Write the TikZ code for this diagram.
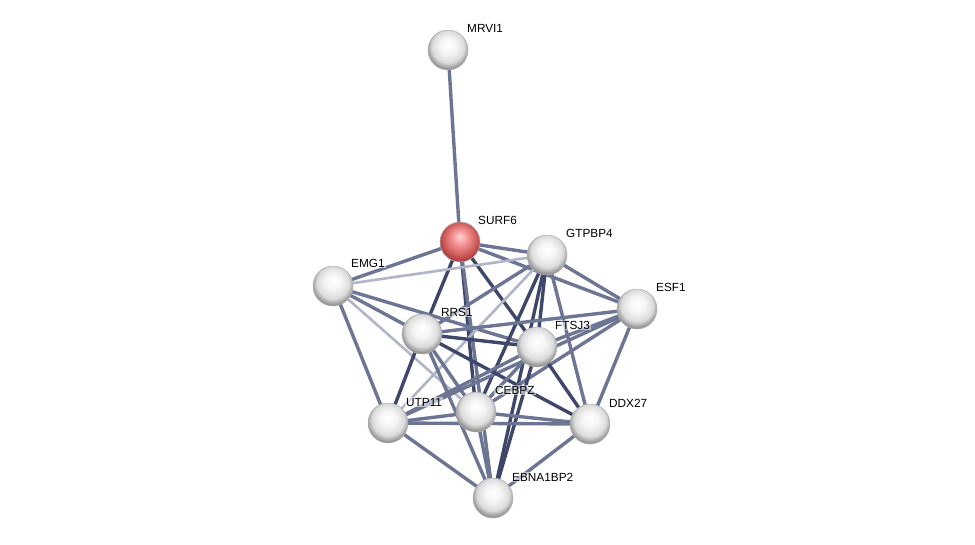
\documentclass[tikz,border=0pt]{standalone}
\usepackage{fontspec}
\setmainfont{Liberation Sans}
\pgfdeclareradialshading{glossy}{\pgfpoint{0bp}{7bp}}{%
  color(0bp)=(white); color(10bp)=(white!96!black); color(20bp)=(black!14);
  color(26bp)=(black!40); color(30bp)=(black!55); color(50bp)=(black!55)}
\pgfdeclareradialshading{glossyred}{\pgfpoint{0bp}{7bp}}{%
  color(0bp)=(red!18!white); color(10bp)=(red!40!white!95!black); color(20bp)=(red!55!white!82!black);
  color(26bp)=(red!60!black!75); color(30bp)=(red!50!black!65); color(50bp)=(red!50!black!65)}
\begin{document}
\begin{tikzpicture}[x=1pt,y=-1pt,
  prot/.style={circle,minimum size=40pt,inner sep=0pt,shading=glossy,draw=gray!60,line width=0.5pt},
  seed/.style={prot,shading=glossyred},
  lab/.style={anchor=west,font=\fontsize{11.8}{13}\selectfont,inner sep=1pt,fill=white,fill opacity=0.55,text opacity=1},
  el/.style={draw=lightedge,line width=2.6pt},
  em/.style={draw=midedge,line width=3.4pt},
  ed/.style={draw=darkedge,line width=3.4pt}]
\definecolor{lightedge}{HTML}{B0B5C8}
\definecolor{midedge}{HTML}{6C7594}
\definecolor{darkedge}{HTML}{3E4769}
\useasboundingbox (0,0) rectangle (975,544);
\fill[white] (0,0) rectangle (975,544);
% coordinates
\coordinate (pMRVI1) at (448,50);
\coordinate (pSURF6) at (460,242);
\coordinate (pGTPBP4) at (547,255);
\coordinate (pEMG1) at (333,286);
\coordinate (pESF1) at (637,309);
\coordinate (pRRS1) at (422,334);
\coordinate (pFTSJ3) at (537,347);
\coordinate (pUTP11) at (388,423);
\coordinate (pCEBPZ) at (476,412);
\coordinate (pDDX27) at (590,424);
\coordinate (pEBNA) at (493,498);
% edges
\draw[em] (pMRVI1) -- (pSURF6);
\draw[em] (pSURF6) -- (pEMG1);
\draw[em] (pSURF6) -- (pGTPBP4);
\draw[em] (pSURF6) -- (pESF1);
\draw[ed] (pSURF6) -- (pRRS1);
\draw[ed] (pSURF6) -- (pFTSJ3);
\draw[ed] (pSURF6) -- (pCEBPZ);
\draw[em] (pSURF6) -- (pEBNA);
\draw[el] (pEMG1) -- (pGTPBP4);
\draw[em] (pEMG1) -- (pRRS1);
\draw[em] (pEMG1) -- (pFTSJ3);
\draw[el] (pEMG1) -- (pCEBPZ);
\draw[em] (pEMG1) -- (pUTP11);
\draw[em] (pGTPBP4) -- (pESF1);
\draw[em] (pGTPBP4) -- (pRRS1);
\draw[ed] (pGTPBP4) -- (pFTSJ3);
\draw[ed] (pGTPBP4) -- (pCEBPZ);
\draw[el] (pGTPBP4) -- (pUTP11);
\draw[em] (pGTPBP4) -- (pDDX27);
\draw[ed] (pGTPBP4) -- (pEBNA);
\draw[em] (pESF1) -- (pRRS1);
\draw[em] (pESF1) -- (pFTSJ3);
\draw[em] (pESF1) -- (pCEBPZ);
\draw[em] (pESF1) -- (pUTP11);
\draw[em] (pESF1) -- (pDDX27);
\draw[ed] (pRRS1) -- (pFTSJ3);
\draw[em] (pRRS1) -- (pCEBPZ);
\draw[ed] (pRRS1) -- (pUTP11);
\draw[ed] (pRRS1) -- (pDDX27);
\draw[em] (pRRS1) -- (pEBNA);
\draw[em] (pFTSJ3) -- (pCEBPZ);
\draw[em] (pFTSJ3) -- (pUTP11);
\draw[ed] (pFTSJ3) -- (pDDX27);
\draw[ed] (pFTSJ3) -- (pEBNA);
\draw[em] (pCEBPZ) -- (pUTP11);
\draw[em] (pCEBPZ) -- (pDDX27);
\draw[em] (pCEBPZ) -- (pEBNA);
\draw[em] (pUTP11) -- (pDDX27);
\draw[em] (pUTP11) -- (pEBNA);
\draw[em] (pDDX27) -- (pEBNA);
% nodes
\node[prot] (MRVI1) at (pMRVI1) {};
\node[seed] (SURF6) at (pSURF6) {};
\node[prot] (GTPBP4) at (pGTPBP4) {};
\node[prot] (EMG1) at (pEMG1) {};
\node[prot] (ESF1) at (pESF1) {};
\node[prot] (RRS1) at (pRRS1) {};
\node[prot] (FTSJ3) at (pFTSJ3) {};
\node[prot] (UTP11) at (pUTP11) {};
\node[prot] (CEBPZ) at (pCEBPZ) {};
\node[prot] (DDX27) at (pDDX27) {};
\node[prot] (EBNA1BP2) at (pEBNA) {};
% labels
\node[lab] (lMRVI1) at (466,28) {MRVI1};
\node[lab] (lSURF6) at (477,220) {SURF6};
\node[lab] (lGTPBP4) at (565,233) {GTPBP4};
\node[lab] (lEMG1) at (350,263) {EMG1};
\node[lab] (lESF1) at (655,287) {ESF1};
\node[lab] (lRRS1) at (440,312) {RRS1};
\node[lab] (lFTSJ3) at (554,325) {FTSJ3};
\node[lab] (lUTP11) at (405,402) {UTP11};
\node[lab] (lCEBPZ) at (494,390) {CEBPZ};
\node[lab] (lDDX27) at (608,403) {DDX27};
\node[lab] (lEBNA1BP2) at (511,477) {EBNA1BP2};
\end{tikzpicture}
\end{document}
